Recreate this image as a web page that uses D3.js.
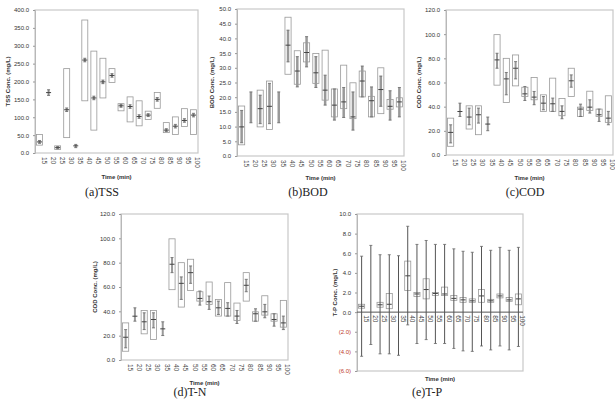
<!DOCTYPE html>
<html>
<head>
<meta charset="utf-8">
<script src="https://cdn.jsdelivr.net/npm/d3@7"></script>
<style>
  body { margin: 0; background: #fff; }
  svg { display: block; }
</style>
</head>
<body>
<div id="chart"></div>
<script>
const times = [15, 20, 25, 30, 35, 40, 45, 50, 55, 60, 65, 70, 75, 80, 85, 90, 95, 100];

// TSS (mg/L)
const tssBoxHi   = [52, null, 20, 236, null, 372, 285, 265, 236, 138, 157, 146, 117, 169, 85, 101, 124, 121];
const tssBoxLo   = [22, null, 10, 43, null, 146, 64, 154, 197, 118, 87, 76, 94, 125, 57, 52, 74, 52];
const tssWhiskHi = [35, 177, 18, 126, 24, 265, 159, 204, 222, 136, 135, 107, 110, 155, 68, 80, 96, 111];
const tssWhiskLo = [27, 161, 12, 116, 15, 255, 149, 194, 212, 128, 125, 97, 102, 145, 60, 70, 86, 101];
const tssMed     = [31, 169, 15, 121, 20, 260, 154, 199, 217, 132, 130, 102, 106, 150, 64, 75, 91, 106];

// BOD (mg/L)
const bodBoxHi   = [17.0, null, 22.4, 25.5, null, 47.2, 35.8, 38.5, 34.9, 36.0, 22.8, 30.9, 24.9, 28.9, 20.3, 30.0, 19.2, 19.8];
const bodBoxLo   = [3.8, null, 9.9, 9.0, null, 27.8, 24.4, 32.0, 24.7, 19.0, 13.3, 16.1, 12.7, 20.1, 13.3, 14.4, 15.9, 16.7];
const bodWhiskHi = [15.5, 21.8, 20.7, 24.7, 21.8, 42.8, 33.8, 40.6, 33.8, 27.5, 22.8, 23.3, 21.8, 30.6, 23.5, 27.2, 22.2, 23.3];
const bodWhiskLo = [4.5, 11.3, 11.0, 11.0, 11.3, 32.0, 23.5, 30.3, 23.3, 17.3, 12.2, 13.1, 8.8, 20.1, 13.3, 16.9, 12.2, 13.3];
const bodMed     = [9.9, null, 16.1, 16.9, null, 37.7, 28.9, 35.2, 28.3, 22.4, 17.3, 18.4, 13.3, 25.5, 18.8, 22.6, 16.9, 18.4];

// COD (mg/L)
const codBoxHi   = [30.5, null, 40.7, 40.7, null, 99.6, 80.0, 82.8, 56.1, 64.1, 49.8, 63.6, 46.8, 71.8, 39.6, 52.8, 38.0, 49.0];
const codBoxLo   = [7.2, null, 21.5, 16.8, null, 57.8, 43.5, 57.2, 48.4, 45.7, 36.1, 36.1, 32.5, 48.4, 31.9, 36.9, 31.9, 27.0];
const codWhiskHi = [25.0, 42.9, 38.8, 38.8, 31.4, 84.2, 68.3, 77.3, 56.7, 52.6, 48.4, 47.1, 40.7, 66.3, 42.1, 45.7, 38.0, 36.1];
const codWhiskLo = [10.0, 31.9, 25.0, 26.4, 20.1, 71.8, 49.8, 63.0, 45.1, 41.6, 37.4, 36.1, 30.0, 56.1, 31.9, 34.7, 27.8, 25.0];
const codMed     = [18.7, 36.0, 31.4, 33.3, 25.6, 78.7, 63.0, 71.8, 50.6, 47.9, 42.9, 42.4, 36.1, 61.4, 38.0, 39.6, 33.3, 30.5];

// T-P (mg/L)
const tpBoxHi   = [0.8, null, 1.0, 1.9, null, 5.2, 2.0, 3.4, 2.0, 2.55, 1.7, 1.5, 1.35, 2.3, 1.3, 1.85, 1.5, 1.85];
const tpBoxLo   = [0.4, null, 0.5, 0.35, null, 2.2, 1.6, 1.35, 1.7, 1.7, 1.2, 1.0, 1.0, 1.0, 1.0, 1.45, 1.1, 0.75];
const tpWhiskHi = [5.7, 6.8, 5.85, 5.85, 5.75, 8.75, 6.9, 7.3, 6.9, 6.9, 6.45, 6.2, 6.1, 6.7, 6.3, 6.6, 6.3, 6.6];
const tpWhiskLo = [-4.5, -3.3, -4.25, -4.25, -4.4, -1.3, -3.2, -2.8, -3.2, -3.2, -3.7, -3.95, -4.0, -3.45, -3.85, -3.45, -3.85, -3.5];
const tpMed     = [0.6, null, 0.75, 0.8, null, 3.7, 1.85, 2.3, 1.9, 1.85, 1.4, 1.25, 1.15, 1.65, 1.15, 1.65, 1.25, 1.35];

const svg = d3.select("#chart").append("svg")
  .attr("width", 615)
  .attr("height", 400);

function drawPanel(cfg) {
  const g = svg.append("g");
  const x = d3.scaleBand().domain(times).range([cfg.left, cfg.right]).padding(0);
  const y = d3.scaleLinear().domain(cfg.domain).range([cfg.bottom, cfg.top]);
  const bw = x.bandwidth();
  const boxW = bw * 0.66;
  const zeroY = y(0);

  // frame
  g.append("rect")
    .attr("x", cfg.left).attr("y", cfg.top)
    .attr("width", cfg.right - cfg.left).attr("height", cfg.bottom - cfg.top)
    .attr("fill", "none").attr("stroke", "#c8c8c8").attr("stroke-width", 1.2);

  // y axis
  const yAxis = g.append("g")
    .attr("transform", "translate(" + cfg.left + ",0)")
    .call(d3.axisLeft(y).tickValues(d3.range(cfg.domain[0], cfg.domain[1] + cfg.step / 2, cfg.step))
      .tickSize(2).tickPadding(4)
      .tickFormat(d => d < 0 ? "(" + d3.format(".1f")(-d) + ")" : d3.format(".1f")(d)));
  yAxis.select(".domain").attr("stroke", "#b8b8b8");
  yAxis.selectAll(".tick line").attr("stroke", "#999");
  yAxis.selectAll("text")
    .attr("font-family", "Liberation Sans, Arial, sans-serif")
    .attr("font-size", "6px")
    .attr("fill", d => d < 0 ? "#c0392b" : "#333");

  // zero line for panels with negatives
  if (cfg.domain[0] < 0) {
    g.append("line")
      .attr("x1", cfg.left).attr("x2", cfg.right)
      .attr("y1", zeroY).attr("y2", zeroY)
      .attr("stroke", "#555").attr("stroke-width", 1);
  }

  // boxes
  const cats = g.append("g").selectAll("g")
    .data(times.map((t, i) => ({
      t: t, hi: cfg.boxHi[i], lo: cfg.boxLo[i],
      wh: cfg.whiskHi[i], wl: cfg.whiskLo[i], med: cfg.med[i]
    })))
    .enter().append("g");

  cats.filter(d => d.hi != null).append("rect")
    .attr("x", d => x(d.t) + (bw - boxW) / 2)
    .attr("y", d => y(d.hi))
    .attr("width", boxW)
    .attr("height", d => y(d.lo) - y(d.hi))
    .attr("fill", "#fff")
    .attr("stroke", "#999")
    .attr("stroke-width", 0.8);

  cats.append("rect")
    .attr("x", d => x(d.t) + bw / 2 - cfg.whiskW / 2)
    .attr("y", d => y(d.wh))
    .attr("width", cfg.whiskW)
    .attr("height", d => y(d.wl) - y(d.wh))
    .attr("fill", cfg.whiskFill);

  // whisker caps
  cats.append("line")
    .attr("x1", d => x(d.t) + bw / 2 - 1.5).attr("x2", d => x(d.t) + bw / 2 + 1.5)
    .attr("y1", d => y(d.wh)).attr("y2", d => y(d.wh))
    .attr("stroke", "#666").attr("stroke-width", 0.8);
  cats.append("line")
    .attr("x1", d => x(d.t) + bw / 2 - 1.5).attr("x2", d => x(d.t) + bw / 2 + 1.5)
    .attr("y1", d => y(d.wl)).attr("y2", d => y(d.wl))
    .attr("stroke", "#666").attr("stroke-width", 0.8);

  cats.filter(d => d.med != null).append("line")
    .attr("x1", d => x(d.t) + bw / 2 - 2.5).attr("x2", d => x(d.t) + bw / 2 + 2.5)
    .attr("y1", d => y(d.med)).attr("y2", d => y(d.med))
    .attr("stroke", "#444").attr("stroke-width", 1);

  // x labels (rotated)
  const labY = cfg.domain[0] < 0 ? zeroY + 3 : cfg.bottom + 4;
  g.append("g").selectAll("text")
    .data(times)
    .enter().append("text")
    .attr("transform", d => "translate(" + (x(d) + bw / 2 + 2) + "," + labY + ") rotate(90)")
    .attr("text-anchor", "start")
    .attr("font-family", "Liberation Sans, Arial, sans-serif")
    .attr("font-size", "6.5px")
    .attr("fill", "#444")
    .text(d => d);

  // axis titles
  g.append("text")
    .attr("x", (cfg.left + cfg.right) / 2)
    .attr("y", cfg.xTitleY)
    .attr("text-anchor", "middle")
    .attr("font-family", "Liberation Sans, Arial, sans-serif")
    .attr("font-size", "6px")
    .attr("font-weight", "bold")
    .attr("fill", "#333")
    .text("Time (min)");

  g.append("text")
    .attr("transform", "translate(" + cfg.yTitleX + "," + ((cfg.top + cfg.bottom) / 2) + ") rotate(-90)")
    .attr("text-anchor", "middle")
    .attr("font-family", "Liberation Sans, Arial, sans-serif")
    .attr("font-size", "6px")
    .attr("font-weight", "bold")
    .attr("fill", "#333")
    .text(cfg.yTitle);

  // caption
  svg.append("text")
    .attr("x", cfg.capX).attr("y", cfg.capY)
    .attr("text-anchor", "middle")
    .attr("font-family", "Liberation Serif, Times New Roman, serif")
    .attr("font-size", "12px")
    .attr("fill", "#222")
    .text(cfg.caption);
}

drawPanel({
  left: 35, right: 198, top: 10, bottom: 153, domain: [0, 400], step: 50,
  boxHi: tssBoxHi, boxLo: tssBoxLo, whiskHi: tssWhiskHi, whiskLo: tssWhiskLo, med: tssMed,
  whiskW: 2, whiskFill: "#888",
  yTitle: "TSS Conc. (mg/L)", yTitleX: 10, xTitleY: 179,
  caption: "(a)TSS", capX: 102, capY: 196
});

drawPanel({
  left: 237, right: 404, top: 9, bottom: 156, domain: [0, 50], step: 5,
  boxHi: bodBoxHi, boxLo: bodBoxLo, whiskHi: bodWhiskHi, whiskLo: bodWhiskLo, med: bodMed,
  whiskW: 2.5, whiskFill: "#999",
  yTitle: "BOD Conc. (mg/L)", yTitleX: 214, xTitleY: 180,
  caption: "(b)BOD", capX: 308, capY: 196
});

drawPanel({
  left: 446, right: 613, top: 10, bottom: 155, domain: [0, 120], step: 20,
  boxHi: codBoxHi, boxLo: codBoxLo, whiskHi: codWhiskHi, whiskLo: codWhiskLo, med: codMed,
  whiskW: 2, whiskFill: "#999",
  yTitle: "COD Conc. (mg/L)", yTitleX: 421, xTitleY: 180,
  caption: "(c)COD", capX: 525, capY: 196
});

drawPanel({
  left: 121, right: 288, top: 214, bottom: 360, domain: [0, 120], step: 20,
  boxHi: codBoxHi, boxLo: codBoxLo, whiskHi: codWhiskHi, whiskLo: codWhiskLo, med: codMed,
  whiskW: 2, whiskFill: "#999",
  yTitle: "COD Conc. (mg/L)", yTitleX: 97, xTitleY: 385,
  caption: "(d)T-N", capX: 190, capY: 396
});

drawPanel({
  left: 357, right: 523, top: 214, bottom: 371, domain: [-6, 10], step: 2,
  boxHi: tpBoxHi, boxLo: tpBoxLo, whiskHi: tpWhiskHi, whiskLo: tpWhiskLo, med: tpMed,
  whiskW: 1, whiskFill: "#555",
  yTitle: "T-P Conc. (mg/L)", yTitleX: 337, xTitleY: 381,
  caption: "(e)T-P", capX: 427, capY: 396
});
</script>
</body>
</html>
